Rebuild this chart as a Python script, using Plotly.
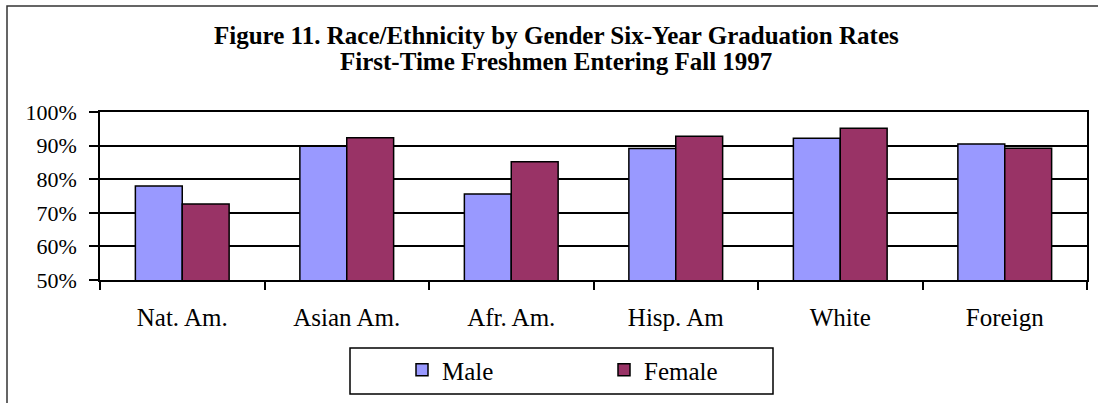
import plotly.graph_objects as go

categories = ["Nat. Am.", "Asian Am.", "Afr. Am.", "Hisp. Am", "White", "Foreign"]
male = [78.0, 89.8, 75.6, 89.1, 92.2, 90.5]
female = [72.6, 92.3, 85.2, 92.8, 95.2, 89.2]
y_ticks = [50, 60, 70, 80, 90, 100]
y_tick_labels = ["50%", "60%", "70%", "80%", "90%", "100%"]
title_lines = ["Figure 11. Race/Ethnicity by Gender Six-Year Graduation Rates",
               "First-Time Freshmen Entering Fall 1997"]

W, H = 1098, 403
L, R, T, B = 100, 11, 112, 123
pw, ph = W - L - R, H - T - B


def px_x(x):
    return (x - L) / pw


def px_y(y):
    return (H - B - y) / ph


FONT = "Liberation Serif, Times New Roman, serif"

fig = go.Figure()
fig.add_trace(go.Bar(name="Male", x=categories, y=male,
                     marker=dict(color="#9999FF", line=dict(color="black", width=1.5))))
fig.add_trace(go.Bar(name="Female", x=categories, y=female,
                     marker=dict(color="#993366", line=dict(color="black", width=1.5))))

annotations = [
    dict(text="<b>%s</b>" % title_lines[0], xref="paper", yref="paper", x=px_x(556), y=px_y(35),
         xanchor="center", yanchor="middle", showarrow=False, borderpad=0,
         font=dict(family=FONT, size=25, color="black")),
    dict(text="<b>%s</b>" % title_lines[1], xref="paper", yref="paper", x=px_x(556), y=px_y(62),
         xanchor="center", yanchor="middle", showarrow=False, borderpad=0,
         font=dict(family=FONT, size=25, color="black")),
]

fig.update_layout(
    width=W, height=H,
    margin=dict(l=L, r=R, t=T, b=B, autoexpand=False),
    paper_bgcolor="white", plot_bgcolor="white",
    barmode="group", bargap=0.43, bargroupgap=0,
    font=dict(family=FONT, size=22, color="black"),
    annotations=annotations,
    showlegend=True,
    legend=dict(
        orientation="h", x=px_x(402), xanchor="left", y=px_y(347), yanchor="top",
        bgcolor="rgba(0,0,0,0)", borderwidth=0, entrywidth=157, entrywidthmode="pixels",
        font=dict(family=FONT, size=25, color="black"),
    ),
    shapes=[
        dict(type="rect", xref="paper", yref="paper", x0=px_x(7), x1=px_x(1110), y0=px_y(6), y1=px_y(420),
             line=dict(color="#333333", width=1.5), fillcolor="rgba(0,0,0,0)", layer="below"),
        dict(type="rect", xref="paper", yref="paper", x0=px_x(350), x1=px_x(773), y0=px_y(348), y1=px_y(394),
             line=dict(color="black", width=1.5), fillcolor="rgba(0,0,0,0)"),
    ],
)
fig.update_yaxes(
    range=[50, 100], tickvals=y_ticks, ticktext=y_tick_labels,
    showgrid=True, gridcolor="black", gridwidth=1.5,
    showline=True, linecolor="black", linewidth=1.5, mirror=True,
    ticks="outside", ticklen=9, tickwidth=1.5, tickcolor="black",
    ticklabelstandoff=8, tickfont=dict(family=FONT, size=22, color="black"),
    zeroline=False,
)
fig.update_xaxes(
    showline=True, linecolor="black", linewidth=1.5, mirror=True,
    ticks="outside", ticklen=8, tickwidth=1.5, tickcolor="black", tickson="boundaries",
    ticklabelstandoff=14, tickfont=dict(family=FONT, size=25, color="black"),
    showgrid=False,
)

fig.write_html("out.html", config={"displayModeBar": False},
               post_script="document.body.style.margin='0';document.body.style.overflow='hidden';")
